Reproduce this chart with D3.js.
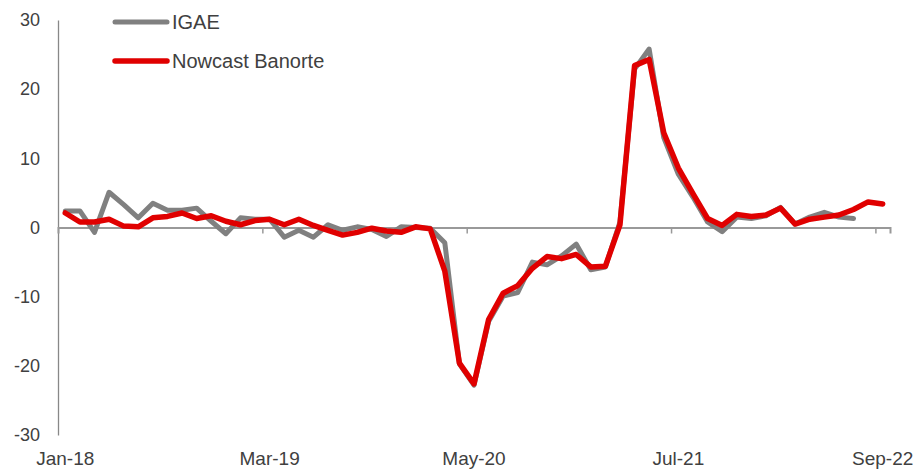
<!DOCTYPE html>
<html>
<head>
<meta charset="utf-8">
<script src="https://cdn.jsdelivr.net/npm/d3@7"></script>
<style>
  html, body { margin: 0; padding: 0; background: #ffffff; }
  svg text { font-family: "Liberation Sans", Arial, sans-serif; fill: #404040; }
</style>
</head>
<body>
<svg id="chart" width="913" height="469"></svg>
<script>
// Monthly series, Jan-18 .. Sep-22 (annual % change)
const months = d3.range(57).map(i => {
  const d = new Date(2018, i, 1);
  return d3.timeFormat("%b-%y")(d);
});

const igae = [
  2.4, 2.4, -0.7, 5.1, 3.3, 1.4, 3.5, 2.5, 2.5, 2.8,
  0.9, -0.9, 1.4, 1.2, 1.2, -1.4, -0.4, -1.4, 0.4, -0.4,
  0.1, -0.3, -1.3, 0.1, 0.0, -0.1, -2.2, -19.7, -22.8, -13.6,
  -9.9, -9.4, -5.0, -5.4, -4.1, -2.4, -6.1, -5.7, 0.8, 22.9,
  25.8, 13.0, 7.7, 4.4, 0.8, -0.6, 1.5, 1.3, 1.7, 2.9,
  0.5, 1.5, 2.2, 1.5, 1.3
];

const nowcast = [
  2.1, 0.8, 0.8, 1.2, 0.2, 0.1, 1.4, 1.6, 2.1, 1.3,
  1.7, 0.9, 0.4, 1.0, 1.2, 0.4, 1.2, 0.3, -0.4, -1.1,
  -0.7, -0.1, -0.5, -0.7, 0.1, -0.2, -6.3, -19.6, -22.6, -13.3,
  -9.5, -8.4, -5.9, -4.2, -4.5, -3.9, -5.7, -5.6, 0.4, 23.4,
  24.3, 13.7, 8.6, 4.9, 1.3, 0.3, 1.9, 1.6, 1.8, 2.8,
  0.5, 1.2, 1.5, 1.8, 2.6, 3.7, 3.4
];

const yTicks = [-30, -20, -10, 0, 10, 20, 30];
const labelIdx = [0, 14, 28, 42, 56];
const boundaryTicks = [13.5, 27.5, 41.5, 55.5];

const seriesNames = ["IGAE", "Nowcast Banorte"];
const seriesColors = ["#808080", "#e00000"];
const seriesWidths = [5, 5.5];

const svg = d3.select("#chart");
const plot = { left: 58, right: 890, top: 20, bottom: 435 };

const x = d3.scaleLinear().domain([-0.5, months.length - 0.5]).range([plot.left, plot.right]);
const y = d3.scaleLinear().domain([-30, 30]).range([plot.bottom, plot.top]);

// Vertical value axis (plain hyphen for negatives)
const yAxis = d3.axisLeft(y).tickValues(yTicks).tickSize(0).tickPadding(18).tickFormat(d => String(d));
const gy = svg.append("g").attr("transform", `translate(${plot.left},0)`).call(yAxis);
gy.select(".domain").attr("stroke", "#888888").attr("stroke-width", 1.3);
gy.selectAll("text").style("font-size", "18px").attr("fill", "#404040");

// Horizontal category axis at zero
const xAxis = d3.axisBottom(x).tickValues(boundaryTicks).tickSize(6).tickFormat("");
const gx = svg.append("g").attr("transform", `translate(0,${y(0)})`).call(xAxis);
gx.select(".domain").attr("stroke", "#999999").attr("stroke-width", 2);
gx.selectAll(".tick line").attr("stroke", "#999999").attr("stroke-width", 1.5);

// Category labels along the bottom
svg.append("g").selectAll("text")
  .data(labelIdx)
  .join("text")
  .attr("x", d => x(d))
  .attr("y", 465)
  .attr("text-anchor", "middle")
  .style("font-size", "19px")
  .text(d => months[d]);

const line = d3.line()
  .x((d, i) => x(i))
  .y(d => y(d))
  .curve(d3.curveLinear);

[igae, nowcast].forEach((s, k) => {
  svg.append("path")
    .datum(s)
    .attr("fill", "none")
    .attr("stroke", seriesColors[k])
    .attr("stroke-width", seriesWidths[k])
    .attr("stroke-linejoin", "round")
    .attr("stroke-linecap", "round")
    .attr("d", line);
});

// Legend
const legend = svg.append("g");
seriesNames.forEach((name, k) => {
  const ly = 22 + k * 39;
  legend.append("line")
    .attr("x1", 115).attr("x2", 167)
    .attr("y1", ly).attr("y2", ly)
    .attr("stroke", seriesColors[k])
    .attr("stroke-width", seriesWidths[k])
    .attr("stroke-linecap", "round");
  legend.append("text")
    .attr("x", 172).attr("y", ly + 7)
    .style("font-size", "20px")
    .text(name);
});
</script>
</body>
</html>
